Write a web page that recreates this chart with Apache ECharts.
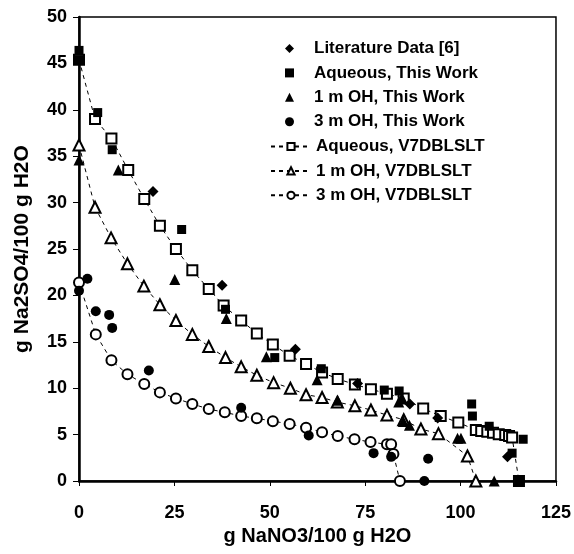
<!DOCTYPE html>
<html>
<head>
<meta charset="utf-8">
<script src="https://cdn.jsdelivr.net/npm/echarts@6/dist/echarts.min.js"></script>
<style>
  html, body { margin: 0; padding: 0; background: #fff; }
  #chart { width: 574px; height: 554px; }
</style>
</head>
<body>
<div id="chart"></div>
<script>
// measured points, [g NaNO3, g Na2SO4] per 100 g H2O
var literatureData = [
    [19.4, 31.2], [37.5, 21.1], [56.7, 14.2], [73.0, 10.5],
    [86.7, 8.3], [94.0, 6.8], [112.3, 2.6]
];
var aqueousWork = [
    [0, 46.4], [0, 45.4], [4.9, 39.7], [8.7, 35.7], [26.9, 27.1],
    [38.4, 18.5], [51.3, 13.3], [63.5, 12.1], [80.0, 9.8], [83.9, 9.7],
    [102.9, 8.3], [103.1, 7.0], [107.5, 5.9], [116.4, 4.5], [113.5, 3.0],
    [115.3, 0]
];
var ohOneWork = [
    [0, 34.6], [10.3, 33.5], [25.1, 21.7], [38.6, 17.5], [49.1, 13.4],
    [62.4, 10.9], [67.8, 8.7], [83.8, 8.5], [84.6, 9.0], [85.0, 6.4],
    [86.6, 6.0], [99.2, 4.6], [100.1, 4.6], [108.8, 0]
];
var ohThreeWork = [
    [0, 20.5], [2.2, 21.8], [4.4, 18.3], [7.9, 17.9], [8.7, 16.5],
    [18.3, 11.9], [42.5, 7.9], [60.2, 4.9], [77.2, 3.0], [81.8, 2.6],
    [91.5, 2.4], [90.5, 0]
];

// V7DBLSLT model curves
var aqueousModel = [
    [0, 45.4], [4.2, 39.0], [8.5, 36.9], [12.9, 33.5], [17.1, 30.4],
    [21.2, 27.5], [25.4, 25.0], [29.7, 22.7], [34.0, 20.7], [37.9, 18.9],
    [42.5, 17.3], [46.6, 15.9], [50.8, 14.7], [55.2, 13.5], [59.5, 12.6],
    [63.7, 11.7], [67.8, 11.0], [72.3, 10.4], [76.5, 9.9], [80.7, 9.4],
    [85.1, 8.9], [90.2, 7.8], [94.8, 7.0], [99.4, 6.3], [104.0, 5.5],
    [105.4, 5.4], [107.0, 5.3], [108.5, 5.2], [110.0, 5.05], [111.7, 4.95],
    [112.7, 4.85], [113.5, 4.7], [115.3, 0]
];
var ohOneModel = [
    [0, 36.2], [4.2, 29.5], [8.4, 26.2], [12.7, 23.4], [17.0, 21.0],
    [21.2, 19.0], [25.4, 17.3], [29.7, 15.8], [34.0, 14.5], [38.4, 13.3],
    [42.5, 12.3], [46.6, 11.4], [51.0, 10.6], [55.4, 10.0], [59.5, 9.3],
    [63.7, 9.0], [67.7, 8.5], [72.3, 8.1], [76.5, 7.65], [80.7, 7.1],
    [85.1, 6.6], [89.6, 5.6], [94.2, 5.1], [101.8, 2.7], [104.0, 0]
];
var ohThreeModel = [
    [0, 21.4], [4.4, 15.8], [8.5, 13.0], [12.7, 11.5], [17.1, 10.45],
    [21.2, 9.55], [25.4, 8.9], [29.7, 8.3], [34.0, 7.75], [38.2, 7.4],
    [42.5, 7.0], [46.6, 6.75], [50.8, 6.45], [55.2, 6.15], [59.5, 5.75],
    [63.7, 5.25], [67.8, 4.85], [72.2, 4.5], [76.4, 4.2], [80.7, 3.95],
    [81.8, 3.95], [82.4, 2.9], [84.1, 0]
];

var workNames = ['Literature Data [6]', 'Aqueous, This Work', '1 m OH, This Work', '3 m OH, This Work'];
var modelNames = ['Aqueous, V7DBLSLT', '1 m OH, V7DBLSLT', '3 m OH, V7DBLSLT'];
var xTicks = [0, 25, 50, 75, 100, 125];
var yTicks = [0, 5, 10, 15, 20, 25, 30, 35, 40, 45, 50];

var font = "'Liberation Sans', Arial, sans-serif";
var legendText = { fontFamily: font, fontWeight: 'bold', fontSize: 17, color: '#000', lineHeight: 17 };

function workSeries(name, symbol, size, data) {
    return {
        name: name,
        type: 'scatter',
        symbol: symbol,
        symbolSize: size,
        itemStyle: { color: '#000', opacity: 1 },
        z: 4,
        data: data
    };
}

function modelSeries(name, symbol, size, data) {
    return {
        name: name,
        type: 'line',
        symbol: symbol,
        symbolSize: size,
        showAllSymbol: true,
        lineStyle: { color: '#000', width: 1, type: [4, 4] },
        itemStyle: { color: '#fff', borderColor: '#000', borderWidth: 2 },
        z: 3,
        data: data
    };
}

var chart = echarts.init(document.getElementById('chart'));
chart.setOption({
    animation: false,
    grid: {
        left: 79, right: 17, top: 17, bottom: 73,
        show: true, borderColor: '#000', borderWidth: 1.5
    },
    legend: [
        {
            orient: 'vertical',
            left: 280,
            top: 35,
            itemWidth: 9,
            itemHeight: 9,
            itemGap: 7.4,
            textStyle: Object.assign({ padding: [0, 0, 0, 15] }, legendText),
            data: workNames
        },
        {
            orient: 'vertical',
            left: 265,
            top: 133,
            itemWidth: 40,
            itemHeight: 9,
            itemGap: 7.4,
            textStyle: Object.assign({ padding: [0, 0, 0, 0] }, legendText),
            data: modelNames
        }
    ],
    xAxis: {
        type: 'value',
        min: 0, max: 125, interval: 25,
        name: 'g NaNO3/100 g H2O',
        nameLocation: 'middle',
        nameGap: 43,
        nameTextStyle: { fontFamily: font, fontWeight: 'bold', fontSize: 20, color: '#000' },
        axisLine: { lineStyle: { color: '#000', width: 2.5 } },
        axisTick: { show: true, length: 5, lineStyle: { color: '#000', width: 1 } },
        axisLabel: {
            fontFamily: font, fontWeight: 'bold', fontSize: 18, color: '#000', margin: 23,
            formatter: function (v) { return xTicks.indexOf(v) > -1 ? String(v) : ''; }
        },
        splitLine: { show: false }
    },
    yAxis: {
        type: 'value',
        min: 0, max: 50, interval: 5,
        name: 'g Na2SO4/100 g H2O',
        nameLocation: 'middle',
        nameGap: 46,
        nameTextStyle: { fontFamily: font, fontWeight: 'bold', fontSize: 21, color: '#000' },
        axisLine: { lineStyle: { color: '#000', width: 2.5 } },
        axisTick: { show: true, length: 6, lineStyle: { color: '#000', width: 1 } },
        axisLabel: {
            fontFamily: font, fontWeight: 'bold', fontSize: 18, color: '#000', margin: 12,
            formatter: function (v) { return yTicks.indexOf(v) > -1 ? String(v) : ''; }
        },
        splitLine: { show: false }
    },
    series: [
        modelSeries(modelNames[0], 'rect', 10, aqueousModel),
        modelSeries(modelNames[1], 'triangle', 11, ohOneModel),
        modelSeries(modelNames[2], 'circle', 10, ohThreeModel),
        workSeries(workNames[0], 'diamond', 11, literatureData),
        workSeries(workNames[1], 'rect', 9, aqueousWork),
        workSeries(workNames[2], 'triangle', 11, ohOneWork),
        workSeries(workNames[3], 'circle', 10, ohThreeWork)
    ]
});
</script>
</body>
</html>
